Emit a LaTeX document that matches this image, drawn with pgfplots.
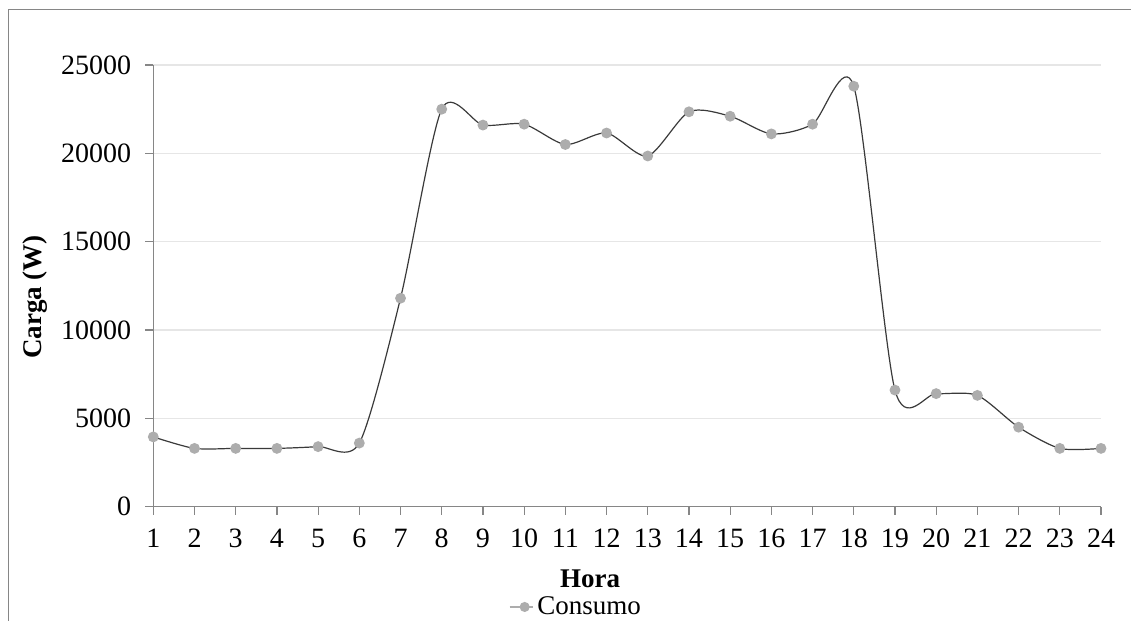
\documentclass[border=0pt]{standalone}
\usepackage{fontspec}
\setmainfont{Liberation Serif}
\usepackage{pgfplots}
\pgfplotsset{compat=1.18}
\definecolor{gridc}{HTML}{E6E6E6}
\definecolor{axc}{HTML}{868686}
\definecolor{markc}{HTML}{ADADAD}
\definecolor{linec}{HTML}{3A3A3A}
\begin{document}
\begin{tikzpicture}
\path[use as bounding box] (0pt,0pt) rectangle (565.5pt,310.5pt);
\draw[axc, line width=0.6pt] (4.15pt,-20pt) -- (4.15pt,305.85pt) -- (620pt,305.85pt);
\begin{axis}[
  at={(76.65pt,57.15pt)}, anchor=south west,
  scale only axis, width=473.85pt, height=220.85pt,
  xmin=1, xmax=24, ymin=0, ymax=25000,
  axis x line=bottom, axis y line=left,
  axis line style={axc, -, line width=0.6pt},
  xtick={1,...,24}, ytick={0,5000,...,25000},
  ymajorgrids, grid style={gridc, line width=0.6pt},
  tick align=outside, major tick length=4pt,
  tick style={axc, line width=0.6pt},
  scaled y ticks=false,
  /pgf/number format/assume math mode=true,
  /pgf/number format/1000 sep={},
  ticklabel style={font=\fontsize{14}{16}\selectfont},
  xticklabel style={yshift=-3.5pt},
  yticklabel style={xshift=-3.5pt},
  xlabel={Hora}, ylabel={Carga (W)},
  label style={font=\bfseries\fontsize{13.5}{16}\selectfont},
  xlabel style={at={(axis description cs:0.4608,-0.1637)}, anchor=center},
  ylabel style={at={(axis description cs:-0.1248,0.475)}, anchor=center},
  legend style={at={(axis description cs:0.447,-0.227)}, anchor=center, draw=none,
    font=\fontsize{13.5}{16}\selectfont, inner sep=0pt},
  legend cell align=left,
  legend image code/.code={
    \draw[markc, line width=0.8pt] (0pt,0pt) -- (11.5pt,0pt);
    \fill[markc] (7.5pt,0pt) circle (2.2pt);
  },
]
\addplot[linec, line width=0.6pt, smooth, tension=0.45, mark=*, mark size=2.4pt,
  mark options={draw=markc, fill=markc}] coordinates {
  (1,3950) (2,3300) (3,3300) (4,3300) (5,3400) (6,3600)
  (7,11800) (8,22500) (9,21600) (10,21650) (11,20500) (12,21150)
  (13,19850) (14,22350) (15,22100) (16,21100) (17,21650) (18,23800)
  (19,6600) (20,6400) (21,6300) (22,4500) (23,3300) (24,3300)
};
\addlegendentry{Consumo}
\end{axis}
\end{tikzpicture}
\end{document}
